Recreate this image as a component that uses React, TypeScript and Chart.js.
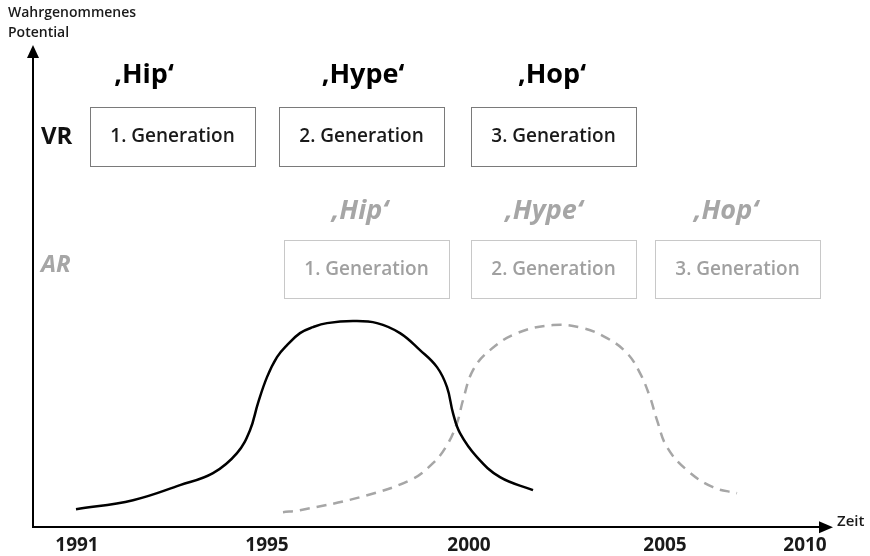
import { useEffect, useRef } from "react";
import { Chart, registerables } from "chart.js";

Chart.register(...registerables);

// ---- data ----
const tickPositions = [44, 234, 436, 632, 772];
const tickLabels = ["1991", "1995", "2000", "2005", "2010"];

const vrX = [43, 100, 147, 180, 204, 217, 225, 234, 244, 254, 267, 280, 294, 320, 344, 367, 387, 404, 414, 420, 427, 444, 467, 500];
const vrY = [18, 27, 42, 54, 74, 97, 124, 150, 170, 182, 194, 200, 204, 206, 204, 194, 177, 160, 140, 114, 94, 70, 50, 37];

const arX = [250, 267, 327, 377, 400, 414, 424, 430, 440, 457, 484, 520, 550, 574, 594, 607, 617, 624, 634, 654, 680, 704];
const arY = [15, 17, 30, 47, 64, 82, 104, 127, 157, 177, 194, 202, 199, 189, 174, 154, 130, 107, 80, 57, 40, 34];

const phases = ["\u201AHip\u2018", "\u201AHype\u2018", "\u201AHop\u2018"];
const generations = ["1. Generation", "2. Generation", "3. Generation"];
const rowLabels = ["VR", "AR"];
const yAxisTitle = ["Wahrgenommenes", "Potential"];
const xAxisTitle = "Zeit";

const FONT = "'Open Sans', 'DejaVu Sans', sans-serif";
const GRAY = "#a6a6a6";

const decorPlugin = {
  id: "decor",
  afterDraw(chart: any) {
    const ctx = chart.ctx;
    const { left, right, top, bottom } = chart.chartArea;
    ctx.save();
    // arrows
    ctx.fillStyle = "#000";
    ctx.beginPath();
    ctx.moveTo(left, top - 12);
    ctx.lineTo(left - 6, top + 1);
    ctx.lineTo(left + 6, top + 1);
    ctx.closePath();
    ctx.fill();
    ctx.beginPath();
    ctx.moveTo(right + 13, bottom);
    ctx.lineTo(right - 1, bottom - 6);
    ctx.lineTo(right - 1, bottom + 6);
    ctx.closePath();
    ctx.fill();

    // axis titles
    ctx.fillStyle = "#1a1a1a";
    ctx.textBaseline = "middle";
    ctx.textAlign = "left";
    ctx.font = `600 14px ${FONT}`;
    ctx.fillText(yAxisTitle[0], 8, 13);
    ctx.fillText(yAxisTitle[1], 8, 33);
    ctx.font = `600 15px ${FONT}`;
    ctx.fillText(xAxisTitle, right + 17, bottom - 5);

    // row labels
    ctx.font = `bold 24px ${FONT}`;
    ctx.fillStyle = "#111";
    ctx.fillText(rowLabels[0], 41, 137);
    ctx.font = `italic bold 24px ${FONT}`;
    ctx.fillStyle = GRAY;
    ctx.fillText(rowLabels[1], 41, 265);

    // boxes
    const vrBoxes = [90, 279, 471];
    const arBoxes = [284, 471, 655];
    const boxW = 165;
    const vrPhaseX = [144, 363, 552];
    const arPhaseX = [360, 544, 726];

    ctx.textAlign = "center";
    ctx.lineWidth = 1;
    for (let i = 0; i < 3; i++) {
      // VR
      ctx.strokeStyle = "#7a7a7a";
      ctx.strokeRect(vrBoxes[i] + 0.5, 107.5, boxW, 59);
      ctx.fillStyle = "#1a1a1a";
      ctx.font = `600 19px ${FONT}`;
      ctx.fillText(generations[i], vrBoxes[i] + boxW / 2, 137);
      ctx.font = `bold 27px ${FONT}`;
      ctx.fillStyle = "#000";
      ctx.fillText(phases[i], vrPhaseX[i], 75);
      // AR
      ctx.strokeStyle = "#c8c8c8";
      ctx.strokeRect(arBoxes[i] + 0.5, 240.5, boxW, 58);
      ctx.fillStyle = "#a0a0a0";
      ctx.font = `600 19px ${FONT}`;
      ctx.fillText(generations[i], arBoxes[i] + boxW / 2, 270);
      ctx.font = `italic bold 27px ${FONT}`;
      ctx.fillStyle = GRAY;
      ctx.fillText(phases[i], arPhaseX[i], 211);
    }
    ctx.restore();
  },
};

export default function App() {
  const ref = useRef<HTMLCanvasElement>(null);
  useEffect(() => {
    if (!ref.current) return;
    const chart = new Chart(ref.current, {
      type: "scatter",
      data: {
        datasets: [
          {
            label: "VR",
            data: vrX.map((x, i) => ({ x, y: vrY[i] })),
            showLine: true,
            borderColor: "#000",
            borderWidth: 2.5,
            pointRadius: 0,
            tension: 0.4,
          },
          {
            label: "AR",
            data: arX.map((x, i) => ({ x, y: arY[i] })),
            showLine: true,
            borderColor: GRAY,
            borderWidth: 2.5,
            borderDash: [10, 7],
            pointRadius: 0,
            tension: 0.4,
          },
        ],
      },
      options: {
        animation: false,
        responsive: false,
        layout: { padding: { left: 33, right: 50, top: 57, bottom: 16 } },
        plugins: { legend: { display: false }, tooltip: { enabled: false } },
        scales: {
          x: {
            type: "linear",
            min: 0,
            max: 787,
            afterBuildTicks: (axis: any) => {
              axis.ticks = tickPositions.map((v) => ({ value: v }));
            },
            grid: { display: false, drawTicks: false },
            border: { display: true, color: "#000", width: 2 },
            ticks: {
              autoSkip: false,
              maxRotation: 0,
              padding: 7,
              color: "#1a1a1a",
              font: { family: FONT, size: 19, weight: "bold" },
              callback: (_v: any, i: number) => tickLabels[i],
            },
          },
          y: {
            type: "linear",
            min: 0,
            max: 470,
            grid: { display: false, drawTicks: false },
            border: { display: true, color: "#000", width: 2 },
            ticks: { display: false },
          },
        },
      },
      plugins: [decorPlugin],
    } as any);
    return () => chart.destroy();
  }, []);
  return (
    <div style={{ position: "fixed", left: 0, top: 0, width: 870, height: 580, background: "#fff" }}>
      <canvas ref={ref} width={870} height={580} style={{ width: 870, height: 580 }} />
    </div>
  );
}
